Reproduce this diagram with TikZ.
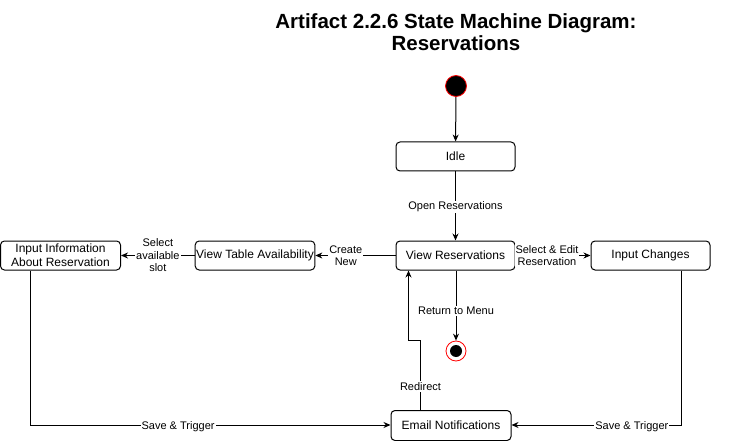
\documentclass[tikz,border=0pt]{standalone}
\usepackage{fontspec}
\setmainfont{Liberation Sans}
\usetikzlibrary{arrows.meta}
\begin{document}
\begin{tikzpicture}[x=1pt,y=-1pt,
  state/.style={draw,rounded corners=4pt,line width=1pt,minimum width=119pt,minimum height=29pt,inner sep=1pt,font=\fontsize{12}{14}\selectfont,align=center},
  conn/.style={draw,line width=1pt,-{Stealth[length=7pt,width=6pt]}},
  lbl/.style={fill=white,inner sep=1pt,font=\fontsize{11}{12.5}\selectfont,align=center}]
\useasboundingbox (0,0) rectangle (731,441);
\node[font=\bfseries\fontsize{20.5}{22}\selectfont,align=center] (title) at (456,32) {Artifact 2.2.6 State Machine Diagram:\\Reservations};
\node[circle,draw=red,fill=black,minimum size=21pt,inner sep=0pt,line width=0.8pt] (start) at (456,86) {};
\node[state] (idle) at (455.5,156.5) {Idle};
\node[state] (view) at (455.5,255.5) {View Reservations};
\node[state] (changes) at (650.5,255.5) {Input Changes};
\node[state] (table) at (255,255.5) {View Table Availability};
\node[state,minimum width=120pt] (info) at (60.5,255.5) {Input Information\\About Reservation};
\node[state,minimum width=120pt,minimum height=30pt] (email) at (451,425.5) {Email Notifications};
\node[circle,draw=red,line width=0.8pt,minimum size=20pt,inner sep=0pt] (end) at (456,351) {};
\node[circle,fill=black,minimum size=12pt,inner sep=0pt] (endin) at (456,351) {};
\draw[conn] (start) -- (idle);
\draw[conn] (idle) -- node[lbl,pos=0.5,yshift=-1pt]{Open Reservations} (view);
\draw[conn] (view.south -| end) -- node[lbl,pos=0.58]{Return to Menu} (end);
\coordinate (r1) at (420.5,340);
\coordinate (r2) at (408.5,340);
\draw[conn] (email.north -| r1) -- node[lbl,pos=0.35,yshift=-1pt]{Redirect} (r1) -- (r2) -- (view.south -| r2);
\draw[conn] (view) -- node[lbl,pos=0.62]{Create\\New} (table);
\draw[conn] (table) -- node[lbl,pos=0.5]{Select\\available\\slot} (info);
\draw[conn] (view) -- node[lbl,pos=0.42]{Select \& Edit\\Reservation} (changes);
\coordinate (s1) at (30.5,425);
\draw[conn] (info.south -| s1) -- (s1) -- node[lbl,pos=0.41,yshift=-1.5pt]{Save \& Trigger} (email.west |- s1);
\coordinate (s2) at (681,425);
\draw[conn] (changes.south -| s2) -- (s2) -- node[lbl,pos=0.29,yshift=-1.5pt]{Save \& Trigger} (email.east |- s2);
\end{tikzpicture}
\end{document}
